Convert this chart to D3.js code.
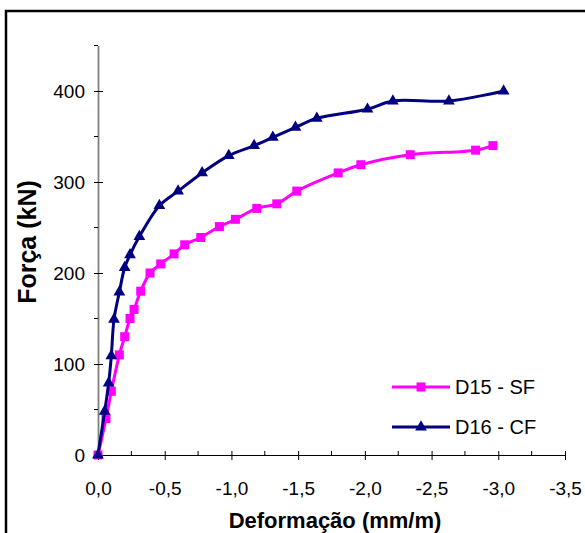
<!DOCTYPE html>
<html>
<head>
<meta charset="utf-8">
<script src="https://cdn.jsdelivr.net/npm/d3@7"></script>
<style>
  html, body { margin: 0; padding: 0; background: #fff; }
  svg { display: block; font-family: "Liberation Sans", Arial, sans-serif; }
</style>
</head>
<body>
<svg id="chart" width="585" height="533"></svg>
<script>
// ---- data ----
const d15Strain = [0, -0.06, -0.10, -0.16, -0.20, -0.24, -0.27, -0.32, -0.39, -0.47, -0.57, -0.65, -0.77, -0.91, -1.03, -1.19, -1.34, -1.49, -1.80, -1.97, -2.34, -2.83, -2.96];
const d15Force  = [0, 40, 70, 110, 130, 150, 160, 180, 200, 210, 221, 231, 239, 251, 259, 271, 276, 290, 310, 319, 330, 335, 340];
const d16Strain = [0, -0.05, -0.08, -0.10, -0.12, -0.16, -0.20, -0.24, -0.31, -0.46, -0.60, -0.78, -0.98, -1.17, -1.31, -1.48, -1.64, -2.02, -2.21, -2.63, -3.04];
const d16Force  = [0, 48, 79, 109, 149, 179, 206, 220, 240, 274, 290, 310, 329, 340, 349, 360, 370, 380, 389, 389, 400];
const seriesNames = ["D15 - SF", "D16 - CF"];
const xMajorTicks = [0, -0.5, -1.0, -1.5, -2.0, -2.5, -3.0, -3.5];
const xMinorTicks = [-0.25, -0.75, -1.25, -1.75, -2.25, -2.75, -3.25];
const yMajorTicks = [0, 100, 200, 300, 400];
const yMinorTicks = [50, 150, 250, 350, 450];
const xTitle = "Deformação (mm/m)";
const yTitle = "Força (kN)";

// ---- layout ----
const svg = d3.select("#chart");
const x = d3.scaleLinear().domain([0, -3.5]).range([98, 565]);
const y = d3.scaleLinear().domain([0, 450]).range([455, 45.5]);

// outer frame
svg.append("rect").attr("x", 6).attr("y", 11).attr("width", 640).attr("height", 600)
  .attr("fill", "none").attr("stroke", "#000").attr("stroke-width", 2.5);

// x axis
const xAxisG = svg.append("g").attr("transform", `translate(0,${y(0)})`)
  .call(d3.axisBottom(x).tickValues(xMajorTicks).tickSizeOuter(0).tickSizeInner(5).tickPadding(21.5)
    .tickFormat(d => d.toFixed(1).replace(".", ",")));
xAxisG.select(".domain").attr("stroke", "#000").attr("stroke-width", 1.2);
xAxisG.selectAll(".tick line").attr("y1", -4).attr("stroke", "#000");
xAxisG.selectAll(".tick text").attr("font-size", 19).attr("fill", "#000")
  .attr("font-family", "Liberation Sans, Arial, sans-serif");
xAxisG.selectAll(".minor").data(xMinorTicks).enter().append("line").attr("class", "minor")
  .attr("x1", d => x(d)).attr("x2", d => x(d)).attr("y1", -4).attr("y2", 0).attr("stroke", "#000");

// y axis
const yAxisG = svg.append("g").attr("transform", `translate(${x(0)},0)`)
  .call(d3.axisLeft(y).tickValues(yMajorTicks).tickSizeOuter(0).tickSizeInner(4).tickPadding(9)
    .tickFormat(d3.format("d")));
yAxisG.select(".domain").attr("stroke", "#808080").attr("stroke-width", 1.8);
yAxisG.selectAll(".tick line").attr("x1", 5).attr("stroke", "#000");
yAxisG.selectAll(".tick text").attr("font-size", 19).attr("fill", "#000")
  .attr("font-family", "Liberation Sans, Arial, sans-serif");
yAxisG.selectAll(".minor").data(yMinorTicks).enter().append("line").attr("class", "minor")
  .attr("x1", -4).attr("x2", 0).attr("y1", d => y(d)).attr("y2", d => y(d)).attr("stroke", "#000");

// axis titles
svg.append("text").attr("x", 335).attr("y", 528).attr("text-anchor", "middle")
  .attr("font-size", 22).attr("font-weight", "bold").text(xTitle);
svg.append("text").attr("transform", "translate(36,242) rotate(-90)").attr("text-anchor", "middle")
  .attr("font-size", 25).attr("font-weight", "bold").text(yTitle);

// series
const line = d3.line().x(d => x(d[0])).y(d => y(d[1])).curve(d3.curveCatmullRom.alpha(0.5));
const d15 = d15Strain.map((s, i) => [s, d15Force[i]]);
const d16 = d16Strain.map((s, i) => [s, d16Force[i]]);
const magenta = "#FF00FF", navy = "#000080";
const sq = d3.symbol().type(d3.symbolSquare).size(81);
const tri = d3.symbol().type(d3.symbolTriangle).size(60);

function drawSeries(data, color, sym) {
  svg.append("path").datum(data).attr("d", line).attr("fill", "none")
    .attr("stroke", color).attr("stroke-width", 3).attr("stroke-linejoin", "round");
  svg.append("g").selectAll("path").data(data).enter().append("path")
    .attr("transform", d => `translate(${x(d[0])},${y(d[1])})`)
    .attr("d", sym).attr("fill", color);
}
drawSeries(d15, magenta, sq);
drawSeries(d16, navy, tri);

// legend
const legend = [
  { name: seriesNames[0], color: magenta, sym: sq, ly: 387 },
  { name: seriesNames[1], color: navy, sym: tri, ly: 427 }
];
legend.forEach(l => {
  svg.append("line").attr("x1", 392).attr("x2", 450).attr("y1", l.ly).attr("y2", l.ly)
    .attr("stroke", l.color).attr("stroke-width", 3);
  svg.append("path").attr("transform", `translate(421,${l.ly})`).attr("d", l.sym).attr("fill", l.color);
  svg.append("text").attr("x", 455).attr("y", l.ly).attr("dy", "0.36em")
    .attr("font-size", 20).attr("fill", "#000").text(l.name);
});
</script>
</body>
</html>
